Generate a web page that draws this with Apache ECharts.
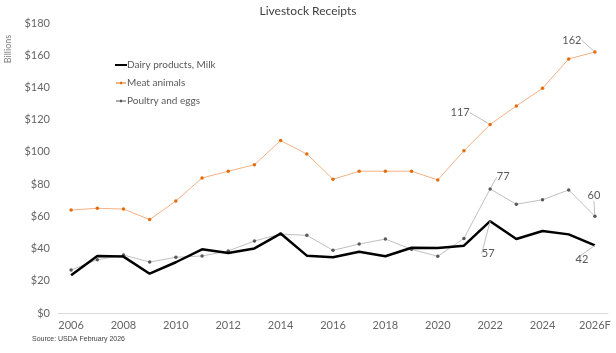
<!DOCTYPE html>
<html>
<head>
<meta charset="utf-8">
<script src="https://cdn.jsdelivr.net/npm/echarts@6/dist/echarts.min.js"></script>
<style>html,body{margin:0;padding:0;background:#fff}#c{width:616px;height:353px}</style>
</head>
<body>
<div id="c"></div>
<script>
var years = ['2006','2007','2008','2009','2010','2011','2012','2013','2014','2015','2016','2017','2018','2019','2020','2021','2022','2023','2024','2025','2026F'];
var dairy   = [23.4,35.4,35.0,24.4,31.5,39.5,37.2,40.1,49.3,35.6,34.6,38.0,35.2,40.5,40.3,41.8,57,45.9,50.9,48.8,42];
var meat    = [63.9,65.0,64.5,58.0,69.5,83.8,88.0,92.0,107.0,98.7,83.0,88.0,88.0,88.0,82.6,100.7,117,128.5,139.5,157.7,162];
var poultry = [26.7,33.0,36.0,31.6,34.6,35.4,38.5,44.7,49.0,48.2,38.9,42.8,45.9,39.5,35.2,46.3,77,67.5,70.3,76.4,60];

var font = 'Lato, "Open Sans", sans-serif';
var labelColor = '#666666';

var meatOff = {16: [-30, -12], 20: [-23, -12]};
var poultryOff = {16: [13, -12], 20: [-1, -21]};
var dairyOff = {16: [-2, 32], 20: [-13, 14]};

function withLabels(arr, offsets) {
  return arr.map(function (v, i) {
    if (!offsets[i]) return v;
    return {
      value: v,
      label: { show: true, position: 'inside', formatter: String(Math.round(v)), color: '#595959', fontSize: 11, fontFamily: font },
      labelLine: { show: true, lineStyle: { color: '#BFBFBF', width: 1 } }
    };
  });
}
function lay(offsets) {
  return function (p) {
    var o = offsets[p.dataIndex];
    if (!o) return {};
    return { dx: o[0], dy: o[1] };
  };
}

var box = 'M0,0 L0.01,0 L0,0.01 Z M12,8 L11.99,8 L12,7.99 Z ';
var chart = echarts.init(document.getElementById('c'), null, {renderer: 'canvas'});
chart.setOption({
  animation: false,
  textStyle: { fontFamily: font },
  title: {
    text: 'Livestock Receipts', left: 'center', top: 0,
    textStyle: { fontSize: 12, fontWeight: 'normal', color: '#404040', fontFamily: font }
  },
  legend: {
    orient: 'vertical', left: 110, top: 55, itemGap: 8,
    itemWidth: 12, itemHeight: 8,
    itemStyle: { borderWidth: 0 },
    lineStyle: { width: 0 },
    textStyle: { fontSize: 10, color: '#595959', fontFamily: font, padding: [0,0,0,-5] },
    data: [
      { name: 'Dairy products, Milk', icon: 'path://' + box + 'M0,3 L12,3 L12,5 L0,5 Z' },
      { name: 'Meat animals', icon: 'path://' + box + 'M1,3.6 L11,3.6 L11,4.4 L1,4.4 Z M5,2.8 L7,2.8 L7,5.2 L5,5.2 Z' },
      { name: 'Poultry and eggs', icon: 'path://' + box + 'M1,3.6 L11,3.6 L11,4.4 L1,4.4 Z M5,2.8 L7,2.8 L7,5.2 L5,5.2 Z' }
    ]
  },
  grid: { left: 58, right: 8, top: 23, bottom: 40 },
  xAxis: {
    type: 'category', data: years, boundaryGap: true,
    axisLine: { show: true, lineStyle: { color: '#D9D9D9', width: 1 } },
    axisTick: { show: false },
    axisLabel: { interval: 1, color: labelColor, fontSize: 11, fontFamily: font, margin: 7 }
  },
  yAxis: {
    type: 'value', min: 0, max: 180, interval: 20,
    axisLine: { show: false }, axisTick: { show: false }, splitLine: { show: false },
    axisLabel: { color: labelColor, fontSize: 11, fontFamily: font, margin: 8, formatter: function (v) { return '$' + v; } }
  },
  graphic: [
    { type: 'text', x: 8, y: 49, rotation: Math.PI / 2, style: { text: 'Billions', fill: '#7F7F7F', fontSize: 9, fontFamily: font, align: 'center', verticalAlign: 'middle' } },
    { type: 'text', x: 32, y: 336, style: { text: 'Source: USDA February 2026', fill: '#404040', fontSize: 7, fontFamily: '"Liberation Sans Narrow", "Liberation Sans", sans-serif' } }
  ],
  series: [
    {
      name: 'Poultry and eggs', type: 'line', data: withLabels(poultry, poultryOff),
      symbol: 'circle', symbolSize: 3.5,
      lineStyle: { color: '#BFBFBF', width: 1 },
      itemStyle: { color: '#595959' },
      labelLayout: lay(poultryOff), z: 2
    },
    {
      name: 'Meat animals', type: 'line', data: withLabels(meat, meatOff),
      symbol: 'circle', symbolSize: 3.5,
      lineStyle: { color: '#F4B183', width: 1 },
      itemStyle: { color: '#E46C0A' },
      labelLayout: lay(meatOff), z: 2
    },
    {
      name: 'Dairy products, Milk', type: 'line', data: withLabels(dairy, dairyOff),
      symbol: 'circle', symbolSize: 0, showSymbol: true,
      lineStyle: { color: '#000000', width: 2.5 },
      itemStyle: { color: '#000000' },
      labelLayout: lay(dairyOff), z: 3
    }
  ]
});
</script>
</body>
</html>
